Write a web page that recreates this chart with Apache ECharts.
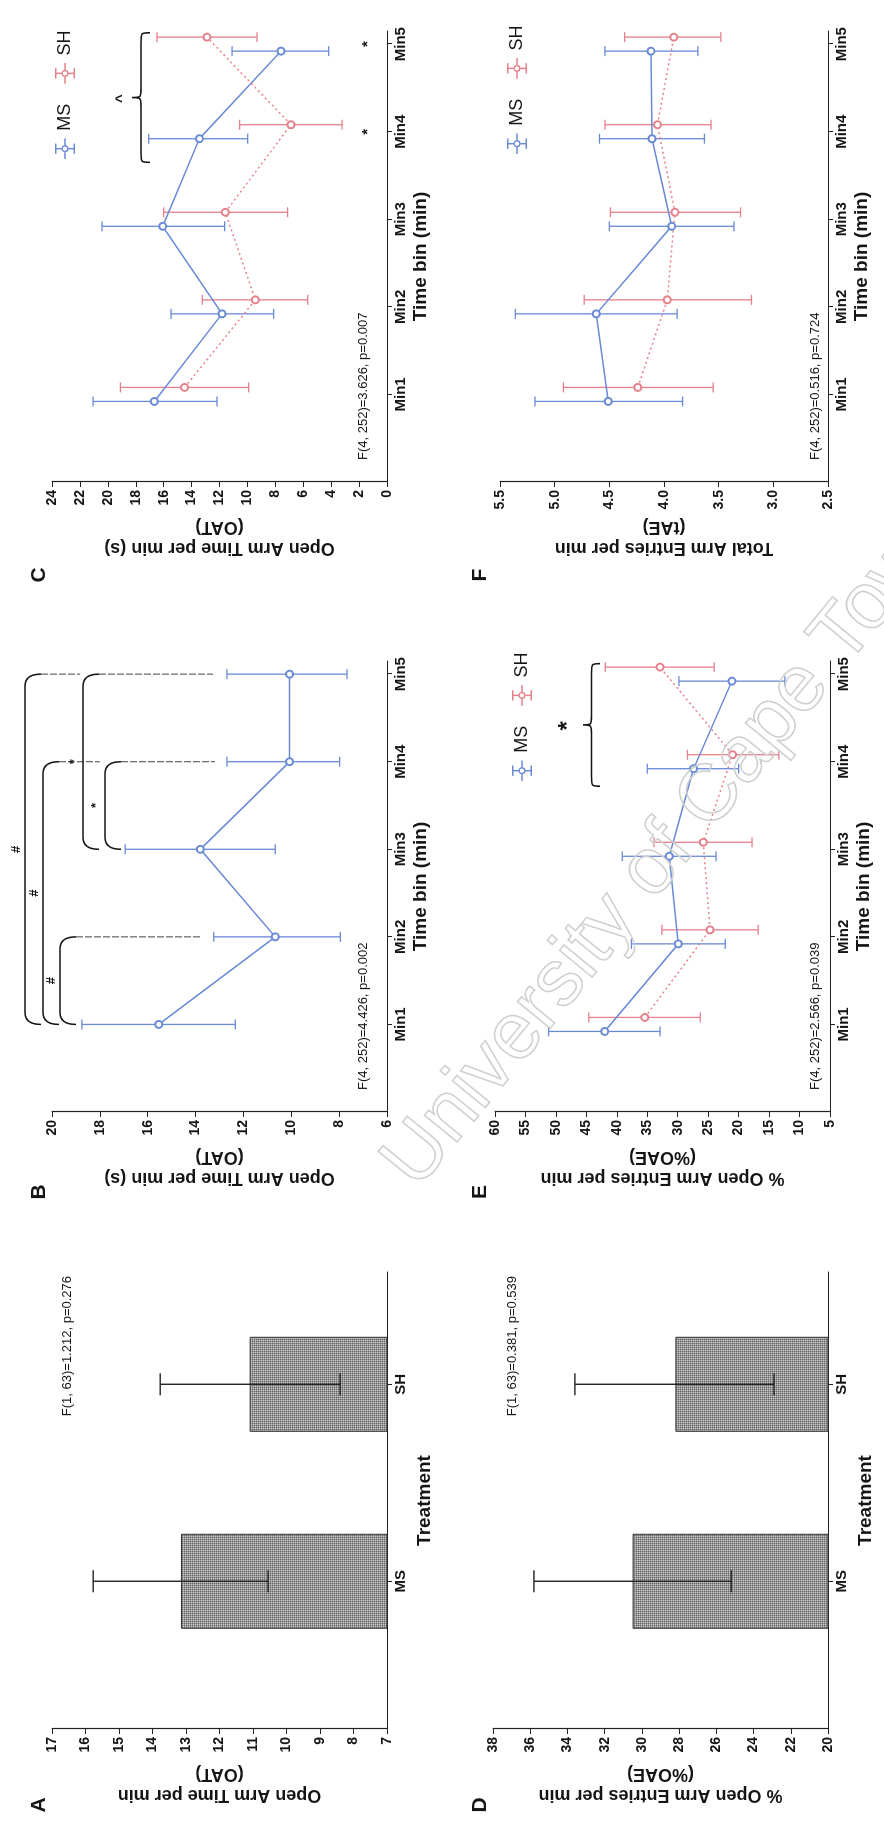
<!DOCTYPE html>
<html>
<head>
<meta charset="utf-8">
<script src="https://cdn.jsdelivr.net/npm/echarts@6/dist/echarts.min.js"></script>
<style>
html, body { margin:0; padding:0; background:#fff; width:884px; height:1822px; overflow:hidden; }
#chart { position:absolute; left:0; top:0; width:1822px; height:884px;
  transform-origin:0 0; transform:translateY(1822px) rotate(-90deg); }
</style>
</head>
<body>
<div id="chart"></div>
<script>
// ---------------- data ----------------
const treatments = ['MS', 'SH'];
const timeBins = ['Min1', 'Min2', 'Min3', 'Min4', 'Min5'];

// axis ranges [min, max, interval]
const axisA = [7, 17, 1];
const axisB = [6, 20, 2];
const axisC = [0, 24, 2];
const axisD = [20, 38, 2];
const axisE = [5, 60, 5];
const axisF = [2.5, 5.5, 0.5];

// A: Open Arm Time per min by treatment
const oatMean = [13.15, 11.1];
const oatLow  = [10.55, 8.4];
const oatHigh = [15.77, 13.77];
// D: % Open Arm Entries per min by treatment
const oaeMean = [30.5, 28.2];
const oaeLow  = [25.2, 22.9];
const oaeHigh = [35.8, 33.6];
// B: OAT per time bin (all)
const bMean = [15.54, 10.67, 13.8, 10.07, 10.07];
const bLow  = [12.34, 7.95, 10.67, 7.98, 7.67];
const bHigh = [18.75, 13.24, 16.94, 12.69, 12.69];
// C: OAT per time bin by treatment
const cMsMean = [16.67, 11.82, 16.07, 13.44, 7.59];
const cMsLow  = [12.18, 8.12, 11.63, 9.98, 4.18];
const cMsHigh = [21.06, 15.47, 20.42, 17.07, 11.1];
const cShMean = [14.5, 9.43, 11.58, 6.88, 12.9];
const cShLow  = [9.91, 5.68, 7.12, 3.22, 9.31];
const cShHigh = [19.1, 13.23, 16.0, 10.56, 16.48];
// E: %OAE per time bin by treatment
const eMsMean = [42.0, 29.9, 31.4, 27.4, 21.1];
const eMsLow  = [32.9, 22.2, 23.7, 20.0, 12.4];
const eMsHigh = [51.2, 37.6, 39.1, 35.0, 29.8];
const eShMean = [35.4, 24.7, 25.8, 21.0, 32.9];
const eShLow  = [26.3, 16.8, 17.8, 13.4, 24.0];
const eShHigh = [44.6, 32.6, 33.9, 28.4, 41.9];
// F: total arm entries per time bin by treatment
const fMsMean = [4.51, 4.62, 3.93, 4.11, 4.12];
const fMsLow  = [3.83, 3.88, 3.36, 3.63, 3.69];
const fMsHigh = [5.18, 5.36, 4.5, 4.59, 4.54];
const fShMean = [4.24, 3.97, 3.9, 4.06, 3.91];
const fShLow  = [3.55, 3.2, 3.3, 3.57, 3.48];
const fShHigh = [4.92, 4.73, 4.49, 4.54, 4.36];

// B comparison brackets: [fromBin, toBin, level, fromExtEnd, toExtEnd]
const bBrackets = [
  [1, 5, 21.13, null, 18.83],
  [1, 4, 20.38, null, 18.0],
  [1, 2, 19.67, null, 13.73],
  [3, 5, 18.70, null, 13.27],
  [3, 4, 17.79, null, 13.19]
];
const bBracketLabels = ['#', '#', '#', '*', '*'];
// braces: [fromBin, toBin, tipValue, endValue]
const cBrace = [3.65, 5.13, 18.27, 16.98];
const eBrace = [3.72, 5.12, 45.55, 42.76];
// C asterisks per bin: [bin, value]
const cStars = [[4, 1.4], [5, 1.4]];

const statTexts = [
  'F(1, 63)=1.212, p=0.276',
  'F(4, 252)=4.426, p=0.002',
  'F(4, 252)=3.626, p=0.007',
  'F(1, 63)=0.381, p=0.539',
  'F(4, 252)=2.566, p=0.039',
  'F(4, 252)=0.516, p=0.724'
];

// ---------------- style ----------------
const FONT = '"Liberation Sans", Arial, Helvetica, sans-serif';
const BLUE = '#6a8ad6';
const RED = '#e6808a';
const INK = '#151515';
const OFF = 0.08;

const pc = document.createElement('canvas');
pc.width = 4; pc.height = 4;
const pg = pc.getContext('2d');
pg.fillStyle = '#979797'; pg.fillRect(0, 0, 4, 4);
pg.fillStyle = '#666'; [[0,0],[2,0],[0,2],[2,2]].forEach(p => pg.fillRect(p[0], p[1], 1, 1));
pg.fillStyle = '#c6c6c6'; [[1,1],[3,1],[1,3],[3,3]].forEach(p => pg.fillRect(p[0], p[1], 1, 1));
const barFill = { image: pc, repeat: 'repeat' };

const chart = echarts.init(document.getElementById('chart'), null, { width: 1822, height: 884 });

const grids = [
  { left: 93,   top: 52,  width: 457, height: 335 },  // A
  { left: 710,  top: 52,  width: 451, height: 335 },  // B
  { left: 1340, top: 52,  width: 451, height: 335 },  // C
  { left: 93,   top: 493, width: 457, height: 335 },  // D
  { left: 710,  top: 495, width: 451, height: 335 },  // E
  { left: 1340, top: 500, width: 451, height: 328 }   // F
];

function xAxisDef(gi, names, min, max, title, gap) {
  const vals = names.map((_, i) => i + 1);
  return {
    type: 'value', gridIndex: gi, min: min, max: max,
    name: title, nameLocation: 'middle', nameGap: gap,
    nameTextStyle: { fontFamily: FONT, fontWeight: 'bold', fontSize: 19, color: INK },
    axisLine: { show: true, onZero: false, lineStyle: { color: '#222', width: 1.2 } },
    axisTick: { show: true, customValues: vals, length: 5, lineStyle: { color: '#222' } },
    axisLabel: { customValues: vals, formatter: v => names[Math.round(v) - 1] || '',
      fontFamily: FONT, fontWeight: 'bold', fontSize: 15, color: INK, margin: 6 },
    splitLine: { show: false }
  };
}
function yAxisDef(gi, ax, title, dec) {
  return {
    type: 'value', gridIndex: gi, min: ax[0], max: ax[1], interval: ax[2],
    name: title, nameLocation: 'middle', nameGap: 34, nameRotate: 90,
    nameTextStyle: { fontFamily: FONT, fontWeight: 'bold', fontSize: 18, color: INK, lineHeight: 21 },
    axisLine: { show: true, onZero: false, lineStyle: { color: '#222', width: 1.2 } },
    axisTick: { show: true, length: 5, lineStyle: { color: '#222' } },
    axisLabel: { formatter: v => dec ? v.toFixed(dec) : String(v),
      fontFamily: FONT, fontWeight: 'bold', fontSize: 14, color: INK, margin: 8 },
    splitLine: { show: false }
  };
}

function errSeries(idx, xs, lo, hi, color, capHalf, lw) {
  return {
    type: 'custom', xAxisIndex: idx, yAxisIndex: idx, silent: true, z: 3,
    data: xs.map((x, i) => [x, lo[i], hi[i]]),
    encode: { x: 0, y: [1, 2] },
    renderItem: (params, api) => {
      const x = api.value(0);
      const p1 = api.coord([x, api.value(1)]);
      const p2 = api.coord([x, api.value(2)]);
      const st = { stroke: color, lineWidth: lw };
      return { type: 'group', children: [
        { type: 'line', shape: { x1: p1[0], y1: p1[1], x2: p2[0], y2: p2[1] }, style: st },
        { type: 'line', shape: { x1: p1[0] - capHalf, y1: p1[1], x2: p1[0] + capHalf, y2: p1[1] }, style: st },
        { type: 'line', shape: { x1: p2[0] - capHalf, y1: p2[1], x2: p2[0] + capHalf, y2: p2[1] }, style: st }
      ]};
    }
  };
}
function lineSeries(name, idx, xs, means, color, dotted) {
  return {
    type: 'line', name: name, xAxisIndex: idx, yAxisIndex: idx, z: 4,
    data: xs.map((x, i) => [x, means[i]]),
    symbol: 'emptyCircle', symbolSize: 7, color: color,
    lineStyle: { color: color, width: 1.5, type: dotted ? [2, 3] : 'solid' },
    itemStyle: { color: color, borderWidth: 1.5 }
  };
}
function barSeries(idx, means) {
  return {
    type: 'bar', name: 'mean', xAxisIndex: idx, yAxisIndex: idx, z: 2,
    data: treatments.map((t, i) => [i + 1, means[i]]),
    barWidth: 95,
    itemStyle: { color: barFill, borderColor: '#333', borderWidth: 1 }
  };
}
function braceSeries(idx, br, label, size) {
  return {
    type: 'custom', xAxisIndex: idx, yAxisIndex: idx, silent: true, z: 5, clip: false,
    data: [br], encode: { x: [0, 1], y: [2, 3] },
    renderItem: (params, api) => {
      const a = api.coord([api.value(0), api.value(2)]);
      const b = api.coord([api.value(1), api.value(3)]);
      const x1 = a[0], x2 = b[0], yT = a[1], yE = b[1];
      const ym = (yT + yE) / 2, xm = (x1 + x2) / 2, c = 10;
      const d = 'M' + x1 + ',' + yE + ' C' + x1 + ',' + ym + ' ' + x1 + ',' + ym + ' ' + (x1 + c) + ',' + ym +
        ' L' + (xm - c) + ',' + ym + ' C' + xm + ',' + ym + ' ' + xm + ',' + ym + ' ' + xm + ',' + yT +
        ' C' + xm + ',' + ym + ' ' + xm + ',' + ym + ' ' + (xm + c) + ',' + ym +
        ' L' + (x2 - c) + ',' + ym + ' C' + x2 + ',' + ym + ' ' + x2 + ',' + ym + ' ' + x2 + ',' + yE;
      return { type: 'group', children: [
        { type: 'path', shape: { pathData: d }, style: { fill: 'none', stroke: INK, lineWidth: 1.6 } },
        { type: 'text', style: { text: label, x: xm - 1, y: yT - 3, align: 'center', verticalAlign: 'bottom',
          font: 'bold ' + size + 'px ' + FONT, fill: INK } }
      ]};
    }
  };
}
const bracketSeries = {
  type: 'custom', xAxisIndex: 1, yAxisIndex: 1, silent: true, z: 5, clip: false,
  data: [[1, 20]], encode: { x: 0, y: 1 },
  renderItem: (params, api) => {
    const children = [];
    const HOOK = 16, R = 12;
    bBrackets.forEach((b, k) => {
      const pf = api.coord([b[0], b[2]]), pt = api.coord([b[1], b[2]]);
      const y = pf[1], xf = pf[0], xt = pt[0];
      const d = 'M' + xf + ',' + (y + HOOK) + ' Q' + xf + ',' + y + ' ' + (xf + R) + ',' + y +
        ' L' + (xt - R) + ',' + y + ' Q' + xt + ',' + y + ' ' + xt + ',' + (y + HOOK);
      children.push({ type: 'path', shape: { pathData: d }, style: { fill: 'none', stroke: INK, lineWidth: 1.5 } });
      [[xf, b[3], b[0]], [xt, b[4], b[1]]].forEach(e => {
        if (e[1] != null) {
          const ye = api.coord([e[2], e[1]])[1];
          children.push({ type: 'line', shape: { x1: e[0], y1: y + HOOK, x2: e[0], y2: ye },
            style: { stroke: '#555', lineWidth: 1.1, lineDash: [7, 2] } });
        }
      });
      children.push({ type: 'text', style: { text: bBracketLabels[k], x: (xf + xt) / 2, y: y - 2,
        align: 'center', verticalAlign: 'bottom', font: 'bold 13px ' + FONT, fill: INK } });
    });
    return { type: 'group', children: children };
  }
};
const starSeries = {
  type: 'custom', xAxisIndex: 2, yAxisIndex: 2, silent: true, z: 5,
  data: cStars, encode: { x: 0, y: 1 },
  renderItem: (params, api) => {
    const p = api.coord([api.value(0), api.value(1)]);
    return { type: 'text', style: { text: '*', x: p[0], y: p[1], align: 'center', verticalAlign: 'middle',
      font: 'bold 15px ' + FONT, fill: INK } };
  }
};

const bins = timeBins.map((_, i) => i + 1);
const msX = bins.map(b => b - OFF);
const shX = bins.map(b => b + OFF);
const trX = treatments.map((_, i) => i + 1);

const ICON = 'path://M0,9.3H6.6V10.7H0Z M13.4,9.3H20V10.7H13.4Z M9.3,1H10.7V6.6H9.3Z M9.3,13.4H10.7V19H9.3Z ' +
  'M5,0.3H15V1.7H5Z M5,18.3H15V19.7H5Z M6.6,10A3.4,3.4 0 1 0 13.4,10A3.4,3.4 0 1 0 6.6,10Z ' +
  'M7.9,10A2.1,2.1 0 1 1 12.1,10A2.1,2.1 0 1 1 7.9,10Z';
function legendDef(left, top) {
  return {
    left: left, top: top, orient: 'horizontal', icon: ICON, itemWidth: 26, itemHeight: 20, itemGap: 20,
    selectedMode: false,
    textStyle: { fontFamily: FONT, fontSize: 18, color: INK },
    data: [
      { name: 'MS', itemStyle: { color: BLUE, borderWidth: 0 } },
      { name: 'SH', itemStyle: { color: RED, borderWidth: 0 } }
    ]
  };
}

function txt(x, y, s, font, align, extra) {
  return Object.assign({ type: 'text', x: x, y: y, silent: true, z: 20,
    style: { text: s, font: font, fill: INK, align: align || 'left', verticalAlign: 'middle' } }, extra || {});
}

const option = {
  backgroundColor: '#fff',
  animation: false,
  grid: grids,
  xAxis: [
    xAxisDef(0, treatments, 0.25, 2.57, 'Treatment', 28),
    xAxisDef(1, timeBins, 0, 5.15, 'Time bin (min)', 24),
    xAxisDef(2, timeBins, 0, 5.15, 'Time bin (min)', 24),
    xAxisDef(3, treatments, 0.25, 2.57, 'Treatment', 28),
    xAxisDef(4, timeBins, 0, 5.15, 'Time bin (min)', 24),
    xAxisDef(5, timeBins, 0, 5.15, 'Time bin (min)', 24)
  ],
  yAxis: [
    yAxisDef(0, axisA, 'Open Arm Time per min\n(OAT)', 0),
    yAxisDef(1, axisB, 'Open Arm Time per min (s)\n(OAT)', 0),
    yAxisDef(2, axisC, 'Open Arm Time per min (s)\n(OAT)', 0),
    yAxisDef(3, axisD, '% Open Arm Entries per min\n(%OAE)', 0),
    yAxisDef(4, axisE, '% Open Arm Entries per min\n(%OAE)', 0),
    yAxisDef(5, axisF, 'Total Arm Entries per min\n(tAE)', 1)
  ],
  legend: [legendDef(1658, 50), legendDef(1036, 507), legendDef(1663, 502)],
  series: [
    barSeries(0, oatMean),
    errSeries(0, trX, oatLow, oatHigh, '#222', 11, 1.4),
    barSeries(3, oaeMean),
    errSeries(3, trX, oaeLow, oaeHigh, '#222', 11, 1.4),

    errSeries(1, bins, bLow, bHigh, BLUE, 5, 1.3),
    lineSeries('MS', 1, bins, bMean, BLUE, false),
    bracketSeries,

    errSeries(2, msX, cMsLow, cMsHigh, BLUE, 5, 1.3),
    errSeries(2, shX, cShLow, cShHigh, RED, 5, 1.3),
    lineSeries('MS', 2, msX, cMsMean, BLUE, false),
    lineSeries('SH', 2, shX, cShMean, RED, true),
    braceSeries(2, cBrace, '^', 15),
    starSeries,

    errSeries(4, msX, eMsLow, eMsHigh, BLUE, 5, 1.3),
    errSeries(4, shX, eShLow, eShHigh, RED, 5, 1.3),
    lineSeries('MS', 4, msX, eMsMean, BLUE, false),
    lineSeries('SH', 4, shX, eShMean, RED, true),
    braceSeries(4, eBrace, '*', 24),

    errSeries(5, msX, fMsLow, fMsHigh, BLUE, 5, 1.3),
    errSeries(5, shX, fShLow, fShHigh, RED, 5, 1.3),
    lineSeries('MS', 5, msX, fMsMean, BLUE, false),
    lineSeries('SH', 5, shX, fShMean, RED, true)
  ],
  graphic: [
    txt(17, 39, 'A', 'bold 21px ' + FONT, 'center'),
    txt(630, 39, 'B', 'bold 21px ' + FONT, 'center'),
    txt(1247, 39, 'C', 'bold 21px ' + FONT, 'center'),
    txt(17, 480, 'D', 'bold 21px ' + FONT, 'center'),
    txt(630, 480, 'E', 'bold 21px ' + FONT, 'center'),
    txt(1247, 480, 'F', 'bold 21px ' + FONT, 'center'),
    txt(546, 67, statTexts[0], '13px ' + FONT, 'right'),
    txt(732, 363, statTexts[1], '13px ' + FONT, 'left'),
    txt(1362, 363, statTexts[2], '13px ' + FONT, 'left'),
    txt(546, 512, statTexts[3], '13px ' + FONT, 'right'),
    txt(732, 815, statTexts[4], '13px ' + FONT, 'left'),
    txt(1362, 815, statTexts[5], '13px ' + FONT, 'left'),
    { type: 'text', x: 645, y: 400, rotation: -0.686, silent: true, z: 100,
      style: { text: 'University of Cape Town', font: '80px ' + FONT, fill: 'rgba(255,255,255,0)',
        stroke: '#cfcfcf', lineWidth: 1.5, align: 'left', verticalAlign: 'middle' } }
  ]
};
chart.setOption(option);
</script>
</body>
</html>
